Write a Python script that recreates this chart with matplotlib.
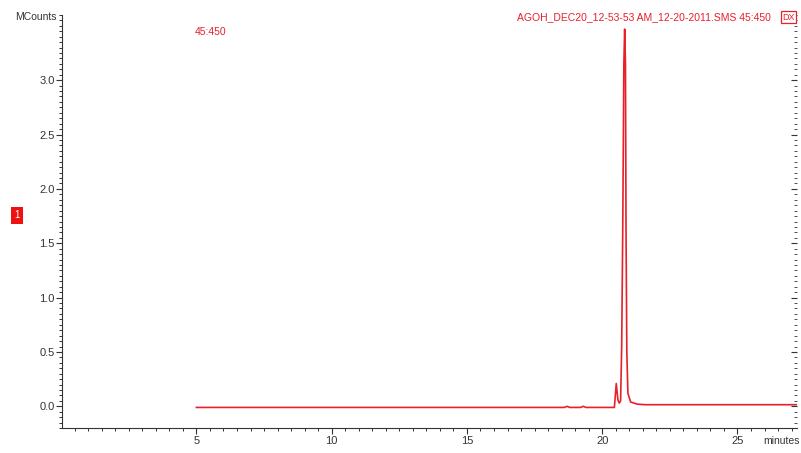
import matplotlib
matplotlib.use("Agg")
import matplotlib.pyplot as plt
from matplotlib.ticker import MultipleLocator, FormatStrFormatter

plt.rcParams["font.family"] = ["Liberation Sans", "DejaVu Sans"]

# retention time (minutes) and signal (MCounts)
times = [5.0, 18.6, 18.7, 18.8, 19.2, 19.3, 19.4, 20.45, 20.52, 20.58, 20.63,
         20.68, 20.72, 20.76, 20.80, 20.83, 20.86, 20.88, 20.91, 20.95, 21.05,
         21.3, 21.6, 27.5]
counts = [-0.01, -0.01, 0.0, -0.01, -0.01, 0.0, -0.01, -0.01, 0.21, 0.06, 0.03,
          0.05, 0.55, 1.65, 3.15, 3.47, 3.15, 1.65, 0.5, 0.12, 0.04,
          0.02, 0.015, 0.015]
y_ticks = [0.0, 0.5, 1.0, 1.5, 2.0, 2.5, 3.0]
x_ticks = [5, 10, 15, 20, 25]

title_text = "AGOH_DEC20_12-53-53 AM_12-20-2011.SMS 45:450"
ion_text = "45:450"
red = "#e8202a"
grey = "#333333"

fig = plt.figure(figsize=(8.01, 4.53), dpi=100)
ax = fig.add_axes([0.078, 0.055, 0.917, 0.912])
ax.plot(times, counts, color=red, lw=1.2)

ax.set_xlim(0.05, 27.2)
ax.set_ylim(-0.2, 3.6)

ax.set_xticks(x_ticks)
ax.xaxis.set_minor_locator(MultipleLocator(0.5))
ax.set_yticks(y_ticks)
ax.yaxis.set_minor_locator(MultipleLocator(0.05))
ax.yaxis.set_major_formatter(FormatStrFormatter("%.1f"))

ax.spines["top"].set_visible(False)
ax.spines["right"].set_visible(False)
ax.spines["left"].set_color(grey)
ax.spines["bottom"].set_color(grey)

ax.tick_params(axis="both", which="major", length=4, width=0.8, colors=grey,
               labelsize=8, pad=1.5)
ax.tick_params(axis="both", which="minor", length=2.5, width=0.7, colors=grey)

# tick marks on the right edge, pointing inwards
ax2 = ax.twinx()
ax2.set_ylim(ax.get_ylim())
ax2.set_yticks(y_ticks)
ax2.yaxis.set_minor_locator(MultipleLocator(0.05))
for s in ax2.spines.values():
    s.set_visible(False)
ax2.tick_params(axis="y", which="both", direction="in", labelright=False, colors=grey)
ax2.tick_params(axis="y", which="major", length=4, width=0.8)
ax2.tick_params(axis="y", which="minor", length=2, width=0.6)

fig.text(0.019, 0.962, "MCounts", fontsize=7.5, color=grey, va="center")
fig.text(0.243, 0.929, ion_text, fontsize=7.5, color=red, va="center")
fig.text(0.962, 0.962, title_text, fontsize=7.5, color=red, va="center", ha="right")
fig.text(0.977, 0.962, "DX", fontsize=6.5, color=red, va="center",
         bbox=dict(boxstyle="square,pad=0.15", fc="white", ec=red, lw=0.9))
fig.text(0.021, 0.525, "1", fontsize=7, color="white", va="center", ha="center",
         bbox=dict(boxstyle="square,pad=0.35", fc="#ee1111", ec="none"))
fig.text(0.998, 0.027, "minutes", fontsize=7.5, color=grey, va="center", ha="right")

fig.savefig("out.png", dpi=100)
